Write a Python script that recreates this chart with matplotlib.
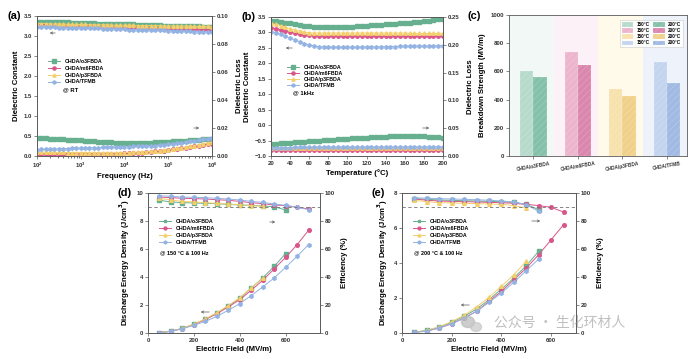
import matplotlib.pyplot as plt
import numpy as np
from matplotlib.ticker import LogLocator, NullFormatter, MultipleLocator
from matplotlib.patches import Patch, Ellipse, FancyArrowPatch

plt.rcParams['font.family'] = ['Liberation Sans', 'DejaVu Sans']
plt.rcParams['font.weight'] = 'bold'
plt.rcParams['axes.labelweight'] = 'bold'
plt.rcParams['hatch.linewidth'] = 0.3

# ---------------- data ----------------
names = ['CHDA/o3FBDA', 'CHDA/m6FBDA', 'CHDA/p3FBDA', 'CHDA/TFMB']
colors = ['#66b08f', '#d9558a', '#f3cf6a', '#93b3e3']
markers = ['s', 'o', '^', 'h']

# (a) frequency sweep at RT
freq = np.logspace(2, 6, 41)
eps_a = [
    [3.36, 3.36, 3.35, 3.35, 3.35, 3.34, 3.34, 3.34, 3.33, 3.33,
     3.33, 3.32, 3.32, 3.32, 3.31, 3.31, 3.31, 3.30, 3.30, 3.30,
     3.29, 3.29, 3.29, 3.28, 3.28, 3.28, 3.27, 3.27, 3.27, 3.26,
     3.26, 3.26, 3.25, 3.25, 3.25, 3.24, 3.24, 3.24, 3.23, 3.23, 3.23],
    [3.27, 3.27, 3.27, 3.26, 3.26, 3.26, 3.25, 3.25, 3.25, 3.25,
     3.24, 3.24, 3.24, 3.23, 3.23, 3.23, 3.23, 3.22, 3.22, 3.22,
     3.21, 3.21, 3.21, 3.21, 3.20, 3.20, 3.20, 3.19, 3.19, 3.19,
     3.19, 3.18, 3.18, 3.18, 3.18, 3.17, 3.17, 3.17, 3.16, 3.16, 3.16],
    [3.31, 3.31, 3.31, 3.30, 3.30, 3.30, 3.30, 3.29, 3.29, 3.29,
     3.29, 3.29, 3.28, 3.28, 3.28, 3.28, 3.28, 3.27, 3.27, 3.27,
     3.27, 3.27, 3.27, 3.26, 3.26, 3.26, 3.26, 3.26, 3.26, 3.25,
     3.25, 3.25, 3.25, 3.25, 3.25, 3.24, 3.24, 3.24, 3.24, 3.24, 3.23],
    [3.23, 3.23, 3.22, 3.22, 3.22, 3.21, 3.21, 3.21, 3.21, 3.20,
     3.20, 3.20, 3.19, 3.19, 3.19, 3.18, 3.18, 3.18, 3.17, 3.17,
     3.17, 3.16, 3.16, 3.16, 3.15, 3.15, 3.15, 3.14, 3.14, 3.14,
     3.13, 3.13, 3.13, 3.12, 3.12, 3.12, 3.11, 3.11, 3.11, 3.10, 3.10],
]
loss_a = [
    [0.0131, 0.0129, 0.0127, 0.0125, 0.0123, 0.0121, 0.0119, 0.0117, 0.0115, 0.0113,
     0.0111, 0.0109, 0.0107, 0.0105, 0.0103, 0.0101, 0.0099, 0.0097, 0.0096, 0.0095,
     0.0094, 0.0094, 0.0094, 0.0094, 0.0094, 0.0095, 0.0096, 0.0097, 0.0098, 0.0100,
     0.0102, 0.0104, 0.0106, 0.0108, 0.0110, 0.0112, 0.0114, 0.0116, 0.0118, 0.0120, 0.0122],
    [0.0012, 0.0012, 0.0012, 0.0012, 0.0012, 0.0012, 0.0012, 0.0012, 0.0012, 0.0012,
     0.0012, 0.0012, 0.0013, 0.0013, 0.0013, 0.0014, 0.0014, 0.0015, 0.0016, 0.0017,
     0.0018, 0.0019, 0.0021, 0.0023, 0.0025, 0.0027, 0.0030, 0.0033, 0.0036, 0.0039,
     0.0043, 0.0047, 0.0051, 0.0055, 0.0059, 0.0064, 0.0069, 0.0074, 0.0079, 0.0084, 0.0089],
    [0.0029, 0.0028, 0.0028, 0.0027, 0.0027, 0.0026, 0.0026, 0.0025, 0.0025, 0.0024,
     0.0024, 0.0024, 0.0023, 0.0023, 0.0023, 0.0023, 0.0023, 0.0023, 0.0023, 0.0023,
     0.0024, 0.0025, 0.0026, 0.0027, 0.0029, 0.0031, 0.0033, 0.0036, 0.0039, 0.0042,
     0.0046, 0.0050, 0.0054, 0.0058, 0.0063, 0.0068, 0.0074, 0.0080, 0.0086, 0.0093, 0.0100],
    [0.0046, 0.0047, 0.0048, 0.0049, 0.0050, 0.0051, 0.0052, 0.0053, 0.0054, 0.0055,
     0.0056, 0.0057, 0.0058, 0.0059, 0.0060, 0.0061, 0.0062, 0.0063, 0.0064, 0.0065,
     0.0066, 0.0067, 0.0068, 0.0069, 0.0070, 0.0071, 0.0073, 0.0075, 0.0077, 0.0080,
     0.0083, 0.0087, 0.0091, 0.0095, 0.0099, 0.0104, 0.0109, 0.0114, 0.0119, 0.0125, 0.0131],
]

# (b) temperature sweep at 1 kHz
temp = np.arange(20, 201, 5)
eps_b = [
    [3.38, 3.36, 3.34, 3.31, 3.29, 3.26, 3.24, 3.22, 3.20, 3.19,
     3.18, 3.17, 3.17, 3.17, 3.17, 3.18, 3.18, 3.19, 3.20, 3.21,
     3.22, 3.23, 3.24, 3.25, 3.26, 3.27, 3.28, 3.30, 3.31, 3.32,
     3.34, 3.35, 3.37, 3.38, 3.40, 3.42, 3.44],
    [3.16, 3.12, 3.09, 3.05, 3.01, 2.98, 2.95, 2.93, 2.91, 2.90,
     2.90, 2.89, 2.89, 2.89, 2.89, 2.89, 2.89, 2.89, 2.89, 2.89,
     2.89, 2.89, 2.88, 2.88, 2.88, 2.88, 2.88, 2.88, 2.88, 2.88,
     2.87, 2.87, 2.87, 2.87, 2.87, 2.87, 2.87],
    [3.30, 3.26, 3.22, 3.17, 3.12, 3.08, 3.04, 3.01, 2.99, 2.98,
     2.98, 2.98, 2.98, 2.98, 2.98, 2.98, 2.98, 2.98, 2.98, 2.98,
     2.98, 2.98, 2.98, 2.98, 2.98, 2.98, 2.98, 2.98, 2.98, 2.97,
     2.97, 2.97, 2.97, 2.97, 2.97, 2.97, 2.97],
    [3.03, 2.99, 2.94, 2.88, 2.82, 2.76, 2.70, 2.64, 2.59, 2.56,
     2.54, 2.53, 2.52, 2.52, 2.52, 2.52, 2.52, 2.52, 2.52, 2.52,
     2.53, 2.53, 2.53, 2.53, 2.54, 2.54, 2.54, 2.55, 2.55, 2.55,
     2.56, 2.56, 2.56, 2.56, 2.57, 2.57, 2.57],
]
loss_b = [
    [0.0217, 0.0222, 0.0227, 0.0232, 0.0237, 0.0243, 0.0249, 0.0255, 0.0261, 0.0267,
     0.0273, 0.0279, 0.0285, 0.0291, 0.0297, 0.0303, 0.0309, 0.0315, 0.0320, 0.0325,
     0.0330, 0.0335, 0.0340, 0.0344, 0.0348, 0.0352, 0.0355, 0.0358, 0.0359, 0.0360,
     0.0359, 0.0356, 0.0352, 0.0347, 0.0341, 0.0333, 0.0325],
    [0.0113, 0.0113, 0.0113, 0.0112, 0.0112, 0.0112, 0.0112, 0.0112, 0.0111, 0.0111,
     0.0111, 0.0111, 0.0111, 0.0111, 0.0110, 0.0110, 0.0110, 0.0110, 0.0110, 0.0110,
     0.0110, 0.0109, 0.0109, 0.0109, 0.0109, 0.0109, 0.0109, 0.0109, 0.0108, 0.0108,
     0.0108, 0.0108, 0.0108, 0.0108, 0.0107, 0.0107, 0.0107],
    [0.0136, 0.0136, 0.0136, 0.0137, 0.0137, 0.0137, 0.0137, 0.0138, 0.0138, 0.0138,
     0.0138, 0.0138, 0.0139, 0.0139, 0.0139, 0.0139, 0.0139, 0.0139, 0.0140, 0.0140,
     0.0140, 0.0140, 0.0140, 0.0140, 0.0140, 0.0140, 0.0141, 0.0141, 0.0141, 0.0141,
     0.0141, 0.0141, 0.0141, 0.0141, 0.0141, 0.0141, 0.0141],
    [0.0150, 0.0151, 0.0151, 0.0152, 0.0152, 0.0153, 0.0153, 0.0154, 0.0154, 0.0155,
     0.0155, 0.0156, 0.0156, 0.0157, 0.0157, 0.0158, 0.0158, 0.0158, 0.0159, 0.0159,
     0.0159, 0.0160, 0.0160, 0.0160, 0.0161, 0.0161, 0.0161, 0.0162, 0.0162, 0.0162,
     0.0162, 0.0163, 0.0163, 0.0163, 0.0163, 0.0164, 0.0164],
]

# (c) breakdown strength
bd_groups = ['CHDA/o3FBDA', 'CHDA/m6FBDA', 'CHDA/p3FBDA', 'CHDA/TFMB']
bd_150 = [600, 738, 478, 670]
bd_200 = [562, 643, 422, 515]
light_cols = ['#b6dacb', '#ecb4cd', '#f7e1ad', '#c3d4ee']
dark_cols = ['#84c1a8', '#da86ad', '#f0d18a', '#a1bae3']
bg_cols = ['#f2f8f5', '#fcf1f6', '#fffaea', '#eef3fb']

# (d) 150 C, 100 Hz
field = [50, 100, 150, 200, 250, 300, 350, 400, 450, 500, 550, 600, 650, 700]
ud_d = [
    [0.03, 0.13, 0.33, 0.62, 0.98, 1.42, 1.92, 2.48, 3.20, 3.93, 4.76, 5.67],
    [0.03, 0.12, 0.32, 0.60, 0.96, 1.38, 1.86, 2.38, 3.05, 3.76, 4.57, 5.40, 6.31, 7.33],
    [0.03, 0.13, 0.34, 0.64, 1.00, 1.45, 1.96, 2.52, 3.22, 3.90],
    [0.02, 0.12, 0.31, 0.55, 0.83, 1.19, 1.62, 2.10, 2.67, 3.29, 3.93, 4.69, 5.48, 6.31],
]
eta_d = [
    [94.8, 93.6, 93.1, 92.9, 92.6, 92.4, 91.9, 91.4, 91.2, 90.7, 90.2, 87.9],
    [97.1, 96.7, 96.2, 96.0, 95.7, 95.2, 94.8, 94.0, 93.1, 92.4, 91.4, 91.0, 89.8, 88.6],
    [96.2, 95.0, 94.0, 93.6, 93.1, 92.6, 92.1, 91.7, 91.0, 90.5],
    [98.1, 97.6, 97.1, 96.9, 96.7, 96.2, 95.7, 95.0, 94.0, 93.3, 92.1, 91.2, 89.8, 88.1],
]

# (e) 200 C, 100 Hz
ud_e = [
    [0.04, 0.15, 0.34, 0.61, 0.95, 1.37, 1.90, 2.51, 3.14, 3.85, 4.67],
    [0.04, 0.11, 0.29, 0.53, 0.86, 1.24, 1.81, 2.38, 3.05, 3.71, 4.48, 5.33, 6.19],
    [0.04, 0.15, 0.36, 0.65, 1.01, 1.49, 2.04, 2.67, 3.33, 4.10],
    [0.04, 0.11, 0.29, 0.53, 0.84, 1.24, 1.75, 2.29, 2.90, 3.56, 4.23],
]
eta_e = [
    [96.0, 95.5, 95.0, 94.8, 94.5, 94.3, 94.0, 93.8, 93.3, 91.9, 88.1],
    [95.7, 94.8, 94.3, 94.0, 93.8, 93.6, 93.3, 93.1, 92.6, 91.9, 91.0, 89.8, 86.4],
    [94.8, 93.8, 93.1, 92.9, 92.6, 92.4, 92.1, 91.9, 91.0, 89.3],
    [96.7, 96.2, 96.0, 95.7, 95.5, 95.2, 94.8, 94.3, 93.6, 91.7, 86.9],
]

# ---------------- layout helpers ----------------
W, H = 692, 359


def box(x0, y0, x1, y1):
    return [x0 / W, 1 - y1 / H, (x1 - x0) / W, (y1 - y0) / H]


def fp(x, y):
    return (x / W, 1 - y / H)


TICK = 4.3
LAB = 5.6


def style(ax):
    for s in ax.spines.values():
        s.set_linewidth(0.6)
        s.set_color('0.35')
    ax.tick_params(labelsize=TICK, length=2, width=0.5, pad=1.5, colors='0.35',
                   labelcolor='0.2')
    ax.tick_params(which='minor', length=1.2, width=0.4)


def arrow(x0, y0, x1, y1):
    fig.add_artist(FancyArrowPatch(fp(x0, y0), fp(x1, y1), transform=fig.transFigure,
                                   arrowstyle='->', mutation_scale=4, lw=0.5, color='0.35'))


fig = plt.figure(figsize=(6.92, 3.59), dpi=100, facecolor='white')

# ---------------- (a) ----------------
ax = fig.add_axes(box(37, 16, 212, 156))
tx = ax.twinx()
for i in range(4):
    ax.plot(freq, eps_a[i], color=colors[i], marker=markers[i], ms=2.5, lw=0.7,
            mec=colors[i], label=names[i])
    tx.plot(freq, loss_a[i], color=colors[i], marker=markers[i], ms=2.5, lw=0.7,
            mec=colors[i])
ax.set_xscale('log')
ax.set_xlim(1e2, 1e6)
ax.set_ylim(0, 3.5)
tx.set_ylim(0, 0.10)
ax.yaxis.set_major_locator(MultipleLocator(0.5))
tx.yaxis.set_major_locator(MultipleLocator(0.02))
ax.xaxis.set_major_locator(LogLocator(base=10, numticks=10))
ax.xaxis.set_minor_locator(LogLocator(base=10, subs=np.arange(2, 10), numticks=10))
ax.xaxis.set_minor_formatter(NullFormatter())
ax.set_xlabel('Frequency (Hz)', fontsize=LAB, labelpad=2)
ax.set_ylabel('Dielectric Constant', fontsize=LAB, labelpad=3)
tx.set_ylabel('Dielectric Loss', fontsize=LAB, labelpad=5)
for a in (ax, tx):
    style(a)
tx.yaxis.set_major_formatter(plt.FuncFormatter(lambda v, p: f'{v:.2f}'))
ax.legend(loc='upper left', bbox_to_anchor=(0.04, 0.72), fontsize=3.8, frameon=False,
          handlelength=2.4, labelspacing=0.35, borderpad=0.2, markerscale=0.9)
ax.text(0.15, 0.47, '@ RT', transform=ax.transAxes, fontsize=4.2, va='center')
arrow(58, 33, 47, 33)
arrow(191, 128, 202, 128)
fig.text(*fp(8, 16), '(a)', fontsize=8, fontweight='bold', va='center')

# ---------------- (b) ----------------
ax = fig.add_axes(box(271, 17, 443, 156))
tx = ax.twinx()
for i in range(4):
    ax.plot(temp, eps_b[i], color=colors[i], marker=markers[i], ms=2.5, lw=0.7,
            mec=colors[i], label=names[i])
    tx.plot(temp, loss_b[i], color=colors[i], marker=markers[i], ms=2.5, lw=0.7,
            mec=colors[i])
ax.set_xlim(20, 200)
ax.set_ylim(-1.0, 3.5)
tx.set_ylim(0, 0.25)
ax.xaxis.set_major_locator(MultipleLocator(20))
ax.yaxis.set_major_locator(MultipleLocator(0.5))
tx.yaxis.set_major_locator(MultipleLocator(0.05))
ax.set_xlabel('Temperature (°C)', fontsize=LAB, labelpad=2)
ax.set_ylabel('Dielectric Constant', fontsize=LAB, labelpad=2)
tx.set_ylabel('Dielectric Loss', fontsize=LAB, labelpad=5)
for a in (ax, tx):
    style(a)
tx.yaxis.set_major_formatter(plt.FuncFormatter(lambda v, p: f'{v:.2f}'))
ax.legend(loc='upper left', bbox_to_anchor=(0.07, 0.68), fontsize=3.8, frameon=False,
          handlelength=2.4, labelspacing=0.18, borderpad=0.2, markerscale=0.9)
ax.text(0.13, 0.455, '@ 1kHz', transform=ax.transAxes, fontsize=4.2, va='center')
arrow(295, 48, 283, 48)
arrow(420, 128, 432, 128)
fig.text(*fp(242, 17), '(b)', fontsize=8, fontweight='bold', va='center')

# ---------------- (c) ----------------
ax = fig.add_axes(box(509, 15, 687, 156))
xs = np.arange(len(bd_groups))
hatch_col = (1, 1, 1, 0.35)
for i in xs:
    ax.axvspan(i - 0.5, i + 0.5, color=bg_cols[i], lw=0, zorder=0)
ax.bar(xs - 0.1, bd_150, width=0.3, color=light_cols, edgecolor=hatch_col,
       linewidth=0.3, hatch='/////', zorder=2)
ax.bar(xs + 0.2, bd_200, width=0.3, color=dark_cols, edgecolor=hatch_col,
       linewidth=0.3, hatch='/////', zorder=2)
ax.set_xlim(-0.5, 3.5)
ax.set_ylim(0, 1000)
ax.yaxis.set_major_locator(MultipleLocator(200))
ax.set_xticks(xs + 0.05)
ax.set_xticklabels(bd_groups, rotation=10, fontsize=3.4)
ax.set_ylabel('Breakdown Strength (MV/m)', fontsize=LAB, labelpad=3)
style(ax)
ax.tick_params(axis='x', labelsize=3.4)
handles = [Patch(facecolor=c, edgecolor=hatch_col, hatch='/////', lw=0.3) for c in light_cols] + \
          [Patch(facecolor=c, edgecolor=hatch_col, hatch='/////', lw=0.3) for c in dark_cols]
labels = ['150°C'] * 4 + ['200°C'] * 4
lg = ax.legend(handles, labels, ncol=2, loc='upper right', fontsize=3.3, frameon=True,
               handlelength=2.6, handleheight=1.1, labelspacing=0.25, columnspacing=0.9,
               borderpad=0.4, handletextpad=0.6, fancybox=False, bbox_to_anchor=(0.99, 0.98))
lg.get_frame().set_linewidth(0.4)
lg.get_frame().set_edgecolor('0.75')
fig.text(*fp(467, 16), '(c)', fontsize=8, fontweight='bold', va='center')


def energy_panel(rect, ud, eta, xmax, ymax, cond, lab, lab_xy, arrows):
    ax = fig.add_axes(rect)
    tx = ax.twinx()
    for i in range(4):
        n = len(ud[i])
        ax.plot(field[:n], ud[i], color=colors[i], marker=markers[i], ms=2.6, lw=0.7,
                mec=colors[i], label=names[i])
        m = len(eta[i])
        tx.plot(field[:m], eta[i], color=colors[i], marker=markers[i], ms=2.6, lw=0.7,
                mec=colors[i])
    tx.axhline(90, color='0.45', ls=(0, (4, 3)), lw=0.6)
    ax.set_xlim(0, xmax)
    ax.set_ylim(0, ymax)
    tx.set_ylim(0, 100)
    ax.xaxis.set_major_locator(MultipleLocator(200))
    ax.yaxis.set_major_locator(MultipleLocator(2))
    tx.yaxis.set_major_locator(MultipleLocator(20))
    ax.set_xlabel('Electric Field (MV/m)', fontsize=LAB, labelpad=2)
    ax.set_ylabel('Discharge Energy Density (J/cm$^3$)', fontsize=LAB, labelpad=3)
    tx.set_ylabel('Efficiency (%)', fontsize=LAB, labelpad=4)
    for a in (ax, tx):
        style(a)
    ax.legend(loc='upper left', bbox_to_anchor=(0.04, 0.84), fontsize=3.8, frameon=False,
              handlelength=2.4, labelspacing=0.35, borderpad=0.2, markerscale=0.8)
    ax.text(0.07, 0.57, cond, transform=ax.transAxes, fontsize=4.0, va='center')
    for a in arrows:
        arrow(*a)
    fig.text(*fp(*lab_xy), lab, fontsize=8, fontweight='bold', va='center')


energy_panel(box(148, 193, 320, 333), ud_d, eta_d, 750, 10, '@ 150 °C & 100 Hz', '(d)',
             (117, 193), [(212, 312, 198, 312), (267, 222, 278, 222)])
energy_panel(box(402, 193, 576, 333), ud_e, eta_e, 700, 8, '@ 200 °C & 100 Hz', '(e)',
             (372, 193), [(472, 305, 458, 305), (529, 221, 543, 221)])

# watermark
fig.add_artist(Ellipse(fp(468, 322), 13 / W, 11 / H, transform=fig.transFigure,
                       color='0.72', alpha=0.7))
fig.add_artist(Ellipse(fp(476, 327), 11 / W, 9 / H, transform=fig.transFigure,
                       color='0.78', alpha=0.7))
fig.text(*fp(494, 323), '公众号 · 生化环材人', fontsize=10,
         family=['Noto Sans CJK SC', 'DejaVu Sans'], fontweight='normal',
         color='0.55', alpha=0.55, va='center')

fig.savefig('out.png', dpi=100, facecolor='white')
